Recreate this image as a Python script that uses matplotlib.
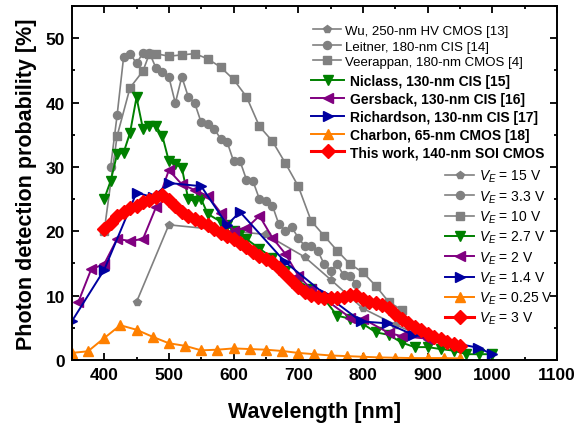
import matplotlib

matplotlib.use("Agg")
import matplotlib.pyplot as plt
from matplotlib.ticker import MultipleLocator

plt.rcParams["font.family"] = ["Liberation Sans", "DejaVu Sans"]
plt.rcParams["mathtext.fontset"] = "custom"
plt.rcParams["mathtext.rm"] = "Liberation Sans"
plt.rcParams["mathtext.it"] = "Liberation Sans:italic"

# -- data (wavelength in nm, PDP in %) --
wu_x = [450, 500, 650, 710, 750, 800, 850, 900]
wu_y = [9, 21, 19.5, 16, 12.5, 8.0, 5.5, 3.3]

leitner_x = [410, 420, 430, 440, 450, 460, 470, 480, 490, 500, 510, 520, 530,
             540, 550, 560, 570, 580, 590, 600, 610, 620, 630, 640, 650, 660,
             670, 680, 690, 700, 710, 720, 730, 740, 750, 760, 770, 780, 790]
leitner_y = [30, 38, 47, 47.6, 46.1, 47.7, 47.7, 45.4, 44.8, 44, 39.9, 44, 40.9,
             39.9, 36.9, 36.6, 35.9, 34.4, 33.9, 30.9, 30.9, 28, 27.8, 25, 24.7, 24,
             21.1, 20.1, 20.6, 19, 17.7, 17.7, 17, 14.9, 13.9, 14.9, 13.2, 13.1, 11.8]

veerappan_x = [400, 420, 440, 460, 470, 480, 500, 520, 540, 560, 580, 600, 620,
               640, 660, 680, 700, 720, 740, 760, 780, 800, 820, 840, 860]
veerappan_y = [20, 34.8, 42.3, 44.9, 47.6, 47.6, 47.2, 47.4, 47.6, 46.8, 45.5, 43.6,
               40.9, 36.3, 34, 30.6, 27, 21.6, 19.3, 17, 14.9, 13.6, 11.5, 9, 7.8]

niclass_x = [400, 410, 420, 430, 440, 450, 460, 470, 480, 490, 500, 510, 520, 530,
             540, 550, 560, 580, 590, 600, 610, 620, 640, 660, 680, 700, 720, 740,
             760, 780, 800, 820, 840, 860, 880, 900, 920, 940, 960, 980, 1000]
niclass_y = [25, 27.8, 32, 32.2, 35.3, 40.8, 35.9, 36.4, 36.4, 34.8, 30.9, 30.4, 29.9,
             25, 24.7, 25, 22.7, 21.5, 20.9, 20.1, 19.8, 18.8, 17.3, 15.9, 13.9, 12.3,
             11, 9.5, 6.9, 6.4, 5.6, 4.3, 3.9, 2.7, 2.0, 2.0, 1.7, 1.45, 0.9, 0.9, 0.9]

gersback_x = [360, 380, 400, 420, 440, 460, 480, 500, 520, 540, 560, 580, 600, 620,
              640, 660, 680, 700, 720, 780, 800, 840, 860, 900]
gersback_y = [9, 14.1, 14.9, 18.8, 18.5, 18.8, 23.7, 29.5, 27.3, 26.4, 25.5, 22.9,
              20.1, 20.5, 22.4, 19, 16.5, 13.1, 11, 6.6, 6.4, 4.2, 3.7, 3.3]

richardson_x = [350, 400, 450, 475, 500, 550, 590, 610, 680, 740, 797, 837, 878, 978, 1000]
richardson_y = [6, 14, 26, 25.3, 27.5, 27, 21, 23, 15.2, 10.3, 6, 5.7, 3.9, 1.9, 0.9]

charbon_x = [350, 375, 400, 425, 450, 475, 500, 525, 550, 575, 600, 625, 650, 675,
             700, 725, 750, 775, 800, 825, 850, 875, 900, 925, 950]
charbon_y = [1.1, 1.35, 3.4, 5.4, 4.7, 3.6, 2.6, 2.2, 1.5, 1.6, 1.8, 1.7, 1.6, 1.4,
             1.1, 0.9, 0.7, 0.6, 0.5, 0.4, 0.35, 0.3, 0.3, 0.3, 0.25]

thiswork_x = [400, 410, 420, 430, 440, 450, 460, 470, 480, 490, 500, 510, 520, 530,
              540, 550, 560, 570, 580, 590, 600, 610, 620, 630, 640, 650, 660, 670,
              680, 690, 700, 710, 720, 730, 740, 750, 760, 770, 780, 790, 800, 810,
              820, 830, 840, 850, 860, 870, 880, 890, 900, 910, 920, 930, 940, 950]
thiswork_y = [20.3, 21.3, 22.3, 23, 23.6, 24, 24.5, 24.9, 25.3, 25.6, 24.8, 24, 23,
              22.3, 21.9, 21.5, 21, 20.4, 19.8, 19.3, 18.8, 18.2, 17.6, 16.8, 16.2,
              15.7, 15.2, 14.3, 13.3, 12.3, 11.3, 10.6, 10.1, 9.8, 9.6, 9.6, 9.7, 9.8,
              10.1, 10.1, 9.5, 9.0, 8.8, 8.6, 8.0, 7.2, 6.4, 5.8, 5.2, 4.6, 4.1, 3.6,
              3.2, 2.8, 2.5, 2.1]

ref_labels = ["Wu, 250-nm HV CMOS [13]", "Leitner, 180-nm CIS [14]",
              "Veerappan, 180-nm CMOS [4]", "Niclass, 130-nm CIS [15]",
              "Gersback, 130-nm CIS [16]", "Richardson, 130-nm CIS [17]",
              "Charbon, 65-nm CMOS [18]", "This work, 140-nm SOI CMOS"]
bias_labels = ["15 V", "3.3 V", "10 V", "2.7 V", "2 V", "1.4 V", "0.25 V", "3 V"]

fig = plt.figure(figsize=(5.8, 4.27), dpi=100)
ax = fig.add_axes([0.1238, 0.1546, 0.8366, 0.829])

# -- curves: gray references first, this work on top --
h_wu, = ax.plot(wu_x, wu_y, color="#808080", marker="p", ms=5.5, lw=1.2)
h_lei, = ax.plot(leitner_x, leitner_y, color="#808080", marker="o", ms=5.8, lw=1.2)
h_vee, = ax.plot(veerappan_x, veerappan_y, color="#808080", marker="s", ms=5.2, lw=1.2)
h_nic, = ax.plot(niclass_x, niclass_y, color="#008000", marker="v", ms=6.5, lw=1.4)
h_ger, = ax.plot(gersback_x, gersback_y, color="#800080", marker="<", ms=6.5, lw=1.4)
h_ric, = ax.plot(richardson_x, richardson_y, color="#0000A0", marker=">", ms=6.5, lw=1.4)
h_cha, = ax.plot(charbon_x, charbon_y, color="#FF8000", marker="^", ms=6.5, lw=1.4)
h_tw, = ax.plot(thiswork_x, thiswork_y, color="#FF0000", marker="D", ms=6.8, lw=2.2)
handles = [h_wu, h_lei, h_vee, h_nic, h_ger, h_ric, h_cha, h_tw]

# -- axes --
ax.set_xlim(350, 1100)
ax.set_ylim(0, 55)
ax.set_xticks(range(400, 1101, 100))
ax.set_yticks(range(0, 51, 10))
ax.xaxis.set_minor_locator(MultipleLocator(50))
ax.yaxis.set_minor_locator(MultipleLocator(5))
ax.tick_params(which="both", direction="in", top=True, right=True, width=1.3,
               labelsize=12.5, pad=5)
ax.tick_params(which="major", length=5)
ax.tick_params(which="minor", length=2.5)
for lbl in ax.get_xticklabels() + ax.get_yticklabels():
    lbl.set_fontweight("bold")
for sp in ax.spines.values():
    sp.set_linewidth(1.4)

ax.set_xlabel("Wavelength [nm]", fontsize=15.5, fontweight="bold", labelpad=14)
ax.set_ylabel("Photon detection probability [%]", fontsize=15.5,
              fontweight="bold", labelpad=6)

# -- legends: references (plain), references (bold), bias voltages --
leg1 = ax.legend(handles[:3], ref_labels[:3], loc="upper left",
                 bbox_to_anchor=(0.497, 0.947), frameon=False, fontsize=9.5,
                 handlelength=2.1, handletextpad=0.35, labelspacing=0.25,
                 borderpad=0, borderaxespad=0)
ax.add_artist(leg1)
leg2 = ax.legend(handles[3:], ref_labels[3:], loc="upper left",
                 bbox_to_anchor=(0.493, 0.807), frameon=False,
                 prop={"weight": "bold", "size": 10},
                 handlelength=2.4, handletextpad=0.4, labelspacing=0.27,
                 borderpad=0, borderaxespad=0)
ax.add_artist(leg2)
ax.legend(handles, [f"$V_E$ = {b}" for b in bias_labels], loc="upper left",
          bbox_to_anchor=(0.769, 0.5425), frameon=False, fontsize=10,
          handlelength=2.1, handletextpad=0.35, labelspacing=0.28,
          borderpad=0, borderaxespad=0)

fig.savefig("out.png", dpi=100)
plt.close(fig)
